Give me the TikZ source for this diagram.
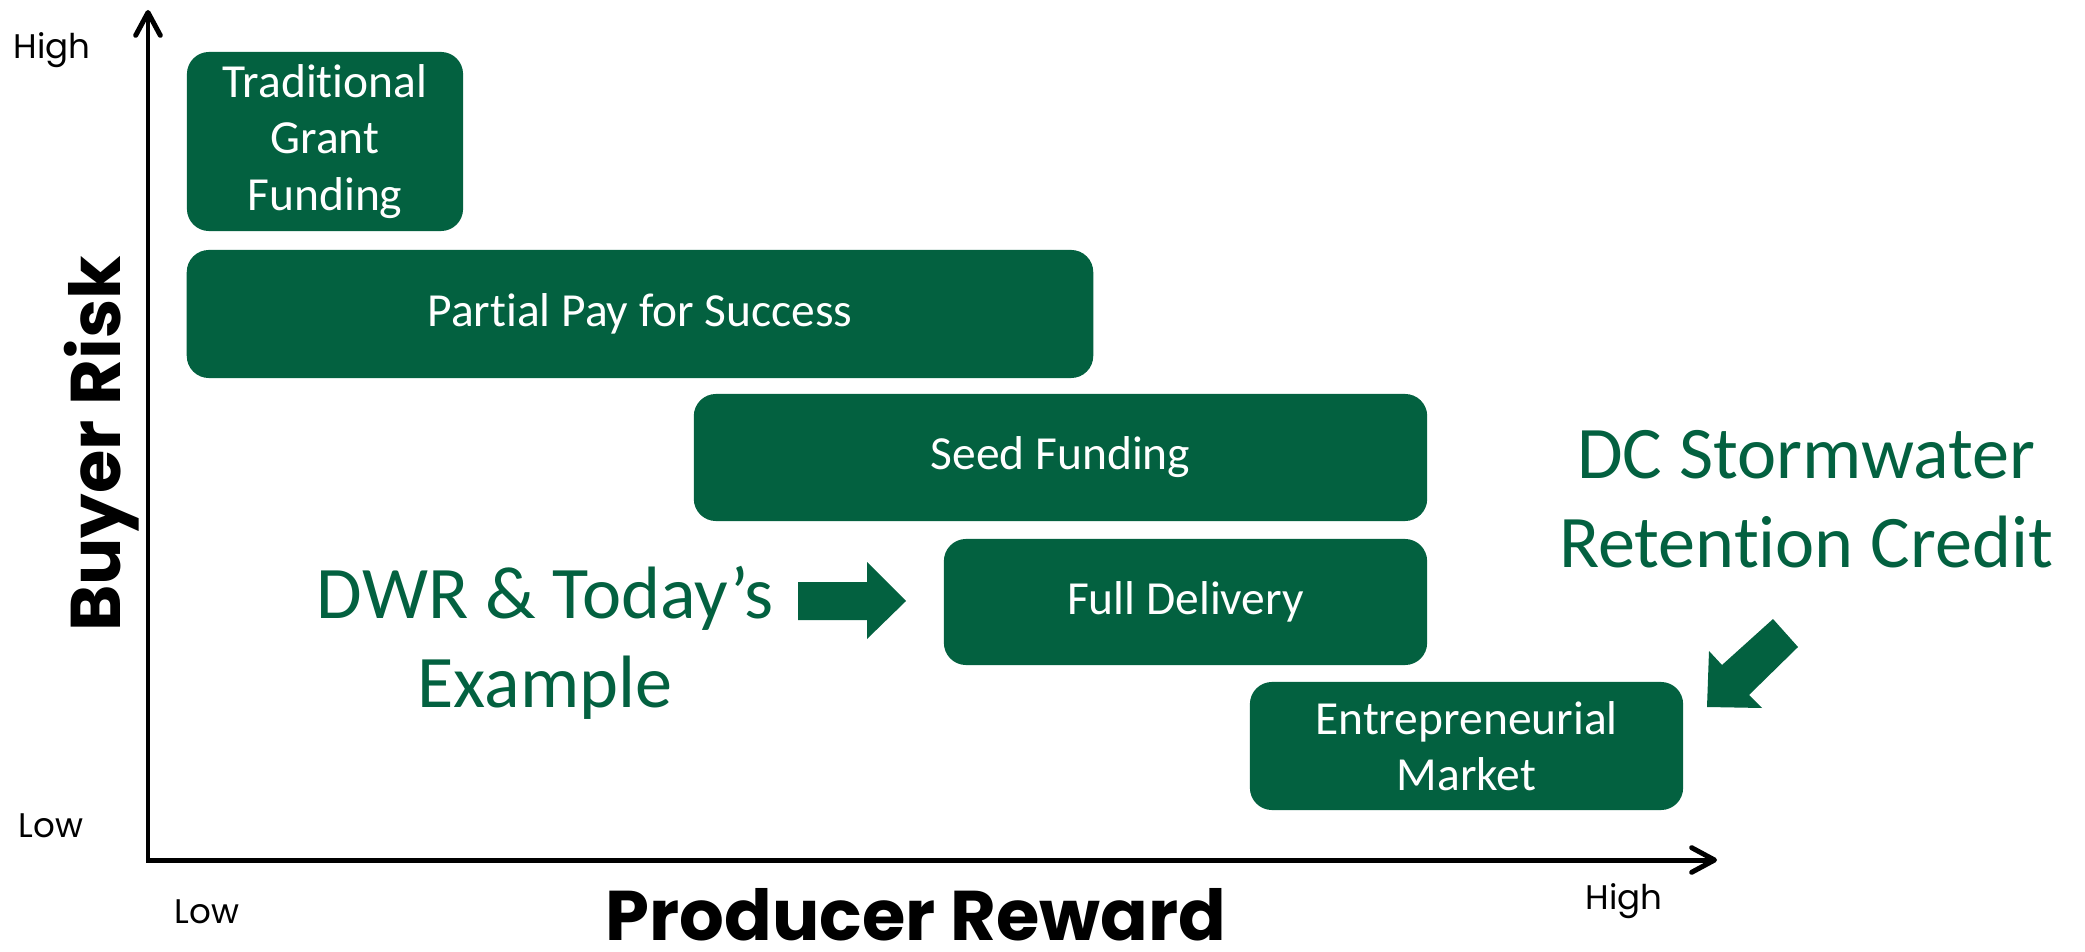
\documentclass[tikz,border=0pt]{standalone}
\usepackage{fontspec}
\setmainfont{Carlito}[Ligatures=NoCommon]
\newfontfamily\axisfont{Poppins}
\usetikzlibrary{arrows.meta}
\definecolor{dgreen}{RGB}{3,97,64}
\begin{document}
\begin{tikzpicture}[x=0.01cm,y=-0.01cm,
  box/.style={fill=dgreen, rounded corners=6.3pt, text=white, align=center,
    font=\fontsize{13.5}{16.1}\selectfont, inner sep=0pt},
  greentext/.style={text=dgreen, align=center, font=\fontsize{21.1}{25.3}\selectfont, inner sep=0pt},
  ticklabel/.style={font=\axisfont\fontsize{9.7}{11}\selectfont, inner sep=0pt, anchor=base},
  axislabel/.style={font=\axisfont\bfseries\fontsize{20}{24}\selectfont, inner sep=0pt, anchor=base},
  axisline/.style={line width=1.42pt,
    {Straight Barb[length=6.5pt,width=7pt,line cap=round,line join=round]}-{Straight Barb[length=6.5pt,width=7pt,line cap=round,line join=round]}},
  blockarrow/.style={fill=dgreen}
]
\useasboundingbox (0,0) rectangle (2085,952);

% axes
\coordinate (ytop) at (148,10);
\coordinate (xend) at (1717,860);
\draw[axisline] (ytop) |- (xend);

% tick labels
\node[ticklabel] (yhigh) at (52,59) {High};
\node[ticklabel] (ylow) at (51,837) {Low};
\node[ticklabel] (xlow) at (207,923) {Low};
\node[ticklabel] (xhigh) at (1624,909) {High};

% axis titles
\node[axislabel, rotate=90] (ytitle) at (120,444) {Buyer Risk};
\node[axislabel, text depth=0pt] (xtitle) at (916,940) {Producer Reward};

% boxes
\node[box, minimum width=2.76cm, minimum height=1.79cm] (tgf) at (325,141.5) {Traditional\\Grant\\Funding};
\node[box, minimum width=9.06cm, minimum height=1.28cm] (ppfs) at (640,314) {Partial Pay for Success};
\node[box, minimum width=7.33cm, minimum height=1.27cm] (seed) at (1060.5,457.5) {Seed Funding};
\node[box, minimum width=4.83cm, minimum height=1.26cm] (full) at (1185.5,602) {Full Delivery};
\node[box, minimum width=4.33cm, minimum height=1.28cm] (entre) at (1466.5,746) {Entrepreneurial\\Market};

% green callouts
\node[greentext] (dwr) at (545,643) {DWR \& Today’s\\Example};
\node[greentext] (dc) at (1806,499) {DC Stormwater\\Retention Credit};

% block arrows
\fill[blockarrow] (798,582) -- (867,582) -- (867,562) -- (906,601) -- (867,639) -- (867,620) -- (798,620) -- cycle;
\fill[blockarrow] (1707,707) -- (1709,651) -- (1722,665) -- (1773,619) -- (1798,647) -- (1749,695) -- (1762,708) -- cycle;
\end{tikzpicture}
\end{document}
